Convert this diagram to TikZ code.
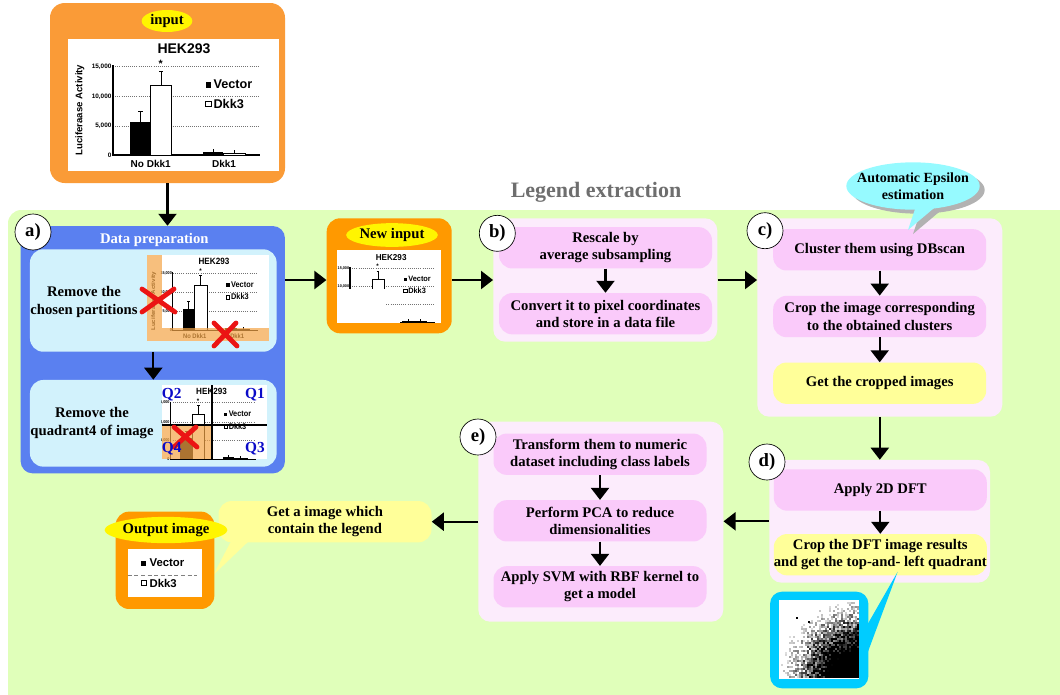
\documentclass[tikz,border=0pt]{standalone}
\usepackage{fontspec}
\setmainfont{Liberation Serif}
\newfontfamily\arial{Liberation Sans}
\usetikzlibrary{arrows.meta,calc,shapes.geometric}

\definecolor{bggreen}{RGB}{224,255,186}
\definecolor{inorange}{RGB}{250,155,55}
\definecolor{boxorange}{RGB}{255,153,0}
\definecolor{tagyellow}{RGB}{255,245,0}
\definecolor{prepblue}{RGB}{90,128,240}
\definecolor{prepinner}{RGB}{210,242,252}
\definecolor{stagepink}{RGB}{252,236,252}
\definecolor{steppink}{RGB}{250,202,250}
\definecolor{stepyellow}{RGB}{255,255,153}
\definecolor{bubblecyan}{RGB}{150,250,255}
\definecolor{framecyan}{RGB}{0,204,255}
\definecolor{titlegray}{RGB}{110,110,110}
\definecolor{crossred}{RGB}{235,20,20}
\definecolor{qblue}{RGB}{10,10,200}
\definecolor{tintorange}{RGB}{245,165,70}

\newcommand\steptext{\bfseries\fontsize{11}{13}\selectfont}

% bar chart "HEK293", local pixel coordinates (211 x 132)
\newcommand\hekchart{%
  \node[font=\arial\bfseries\fontsize{10.5}{12}\selectfont] (chtitle) at (116,10) {HEK293};
  \foreach \yy/\lab in {27.7/{15,000},57.7/{10,000},87/{5,000}}{
    \draw[black!55, densely dotted, line width=0.6pt] (45,\yy) -- (192,\yy);
    \node[font=\arial\bfseries\fontsize{4.8}{5}\selectfont, anchor=east, inner sep=1pt] (chtick) at (45,\yy) {\lab};
  }
  \node[font=\arial\bfseries\fontsize{4.8}{5}\selectfont, anchor=east, inner sep=1pt] (chzero) at (45,116) {0};
  \draw[line width=0.9pt] (45,26) -- (45,116) -- (192,116);
  \fill (62,83) rectangle (82.7,116);
  \draw[fill=white, line width=0.5pt] (82.7,46) rectangle (103.7,116);
  \draw[line width=0.6pt] (72.3,83) -- (72.3,72) (70,72) -- (74.6,72);
  \draw[line width=0.6pt] (93.2,46) -- (93.2,32) (91,32) -- (95.4,32);
  \node[font=\arial\bfseries\fontsize{8}{8}\selectfont] (chstar) at (92.7,25) {*};
  \fill (135,113) rectangle (155,116);
  \draw[fill=white, line width=0.5pt] (155,114) rectangle (177,116);
  \draw[line width=0.5pt] (145,113) -- (145,110) (166,114) -- (166,111);
  \node[font=\arial\bfseries\fontsize{7.5}{8}\selectfont] (chxa) at (82.7,125) {No Dkk1};
  \node[font=\arial\bfseries\fontsize{7.5}{8}\selectfont] (chxb) at (156,125) {Dkk1};
  \node[font=\arial\bfseries\fontsize{7.2}{8}\selectfont, rotate=90] (chylab) at (12,71) {Luciferaase Activity};
  \fill (137.5,43) rectangle ++(5.5,5.5);
  \node[font=\arial\bfseries\fontsize{9.5}{10}\selectfont, anchor=west, inner sep=1pt] (chvec) at (144,45.5) {Vector};
  \draw[fill=white, line width=0.5pt] (137.5,62) rectangle ++(5.5,5.5);
  \node[font=\arial\bfseries\fontsize{9.5}{10}\selectfont, anchor=west, inner sep=1pt] (chdkk) at (144,64.5) {Dkk3};
}

\begin{document}
\begin{tikzpicture}[x=0.75pt,y=-0.75pt,
  stage/.style={fill=stagepink, rounded corners=9pt, inner sep=0pt},
  stepbox/.style={fill=steppink, rounded corners=10pt, minimum width=159.75pt,
    minimum height=31pt, align=center, font=\steptext, inner sep=0pt},
  notebox/.style={stepbox, fill=stepyellow},
  tag/.style={circle, draw, line width=0.5pt, fill=white, minimum size=27pt,
    inner sep=0pt, font=\bfseries\fontsize{14}{14}\selectfont},
  tagell/.style={ellipse, fill=tagyellow, inner sep=0pt,
    font=\bfseries\fontsize{11}{12}\selectfont},
  orangebox/.style={fill=boxorange, rounded corners=10pt, inner sep=0pt},
  arr/.style={line width=1.6pt, -{Triangle[width=13.5pt,length=9pt]}},
  redx/.style={crossred, line width=3.6pt, line cap=round},
  qlab/.style={text=qblue, font=\bfseries\fontsize{11.5}{12}\selectfont, inner sep=0pt}]

\useasboundingbox (0,0) rectangle (1060,694);

% green working area
\fill[bggreen, rounded corners=10pt] (8,210) rectangle (1100,730);
\node[font=\bfseries\fontsize{16.5}{18}\selectfont, text=titlegray] (legendtitle) at (596,192) {Legend extraction};

% ---------- input ----------
\node[fill=inorange, rounded corners=11pt, minimum width=176.25pt, minimum height=135pt] (input) at (167.5,93) {};
\fill[white] (68,39) rectangle (279,171);
\begin{scope}[shift={(68,39)}]
  \hekchart
\end{scope}
\node[tagell, minimum width=38pt, minimum height=16.5pt] (inputtag) at (167,21) {input};

% ---------- a) data preparation ----------
\node[fill=prepblue, rounded corners=9pt, minimum width=198.2pt, minimum height=185.5pt] (prep) at (152.8,349.7) {};
\node[font=\bfseries\fontsize{11}{12}\selectfont, text=white] (preptitle) at (154.3,239.5) {Data preparation};
\node[fill=prepinner, rounded corners=10pt, minimum width=185pt, minimum height=76.8pt] (prepA) at (153.3,300.5) {};
\node[fill=prepinner, rounded corners=10pt, minimum width=185pt, minimum height=65pt] (prepB) at (153.3,423.3) {};
\node[align=center, font=\steptext] (prepAtext) at (84,302) {Remove the\\chosen partitions};
\node[align=center, font=\steptext] (prepBtext) at (92,423) {Remove the\\quadrant4 of image};

% partitions removed
\fill[white] (146.7,255) rectangle (269,340.7);
\begin{scope}
  \clip (146.7,255) rectangle (269,340.7);
  \begin{scope}[shift={(146.7,255)}, xscale=0.58, yscale=0.65, transform shape]
    \hekchart
  \end{scope}
  \fill[tintorange, opacity=0.7] (146.7,255) rectangle (161.7,340.7);
  \fill[tintorange, opacity=0.7] (161.7,328) rectangle (269,340.7);
\end{scope}
\draw[redx] (142,289) -- (175,312) (142,312) -- (174,289);
\draw[redx] (214,323) -- (237,346) (214,346) -- (236,323);

% quadrants
\fill[white] (161.7,385) rectangle (267,459);
\begin{scope}
  \clip (161.7,385) rectangle (267,459);
  \begin{scope}[shift={(144.3,385)}, xscale=0.58, yscale=0.64, transform shape]
    \hekchart
  \end{scope}
  \fill[tintorange, opacity=0.7] (161.7,425) rectangle (211.7,459);
\end{scope}
\draw[line width=1.2pt] (211.7,385) -- (211.7,459);
\draw[line width=1.2pt] (161.7,425) -- (267,425);
\draw[redx] (174,427) -- (197,447) (174,447) -- (196,427);
\node[qlab] (q2) at (171.7,395) {Q2};
\node[qlab] (q1) at (255,395) {Q1};
\node[qlab] (q4) at (171.7,449) {Q4};
\node[qlab] (q3) at (255,449) {Q3};

\draw[arr] (prepA.south) -- (prepB.north);
\node[tag] (taga) at (33,232) {a)};

% ---------- new input ----------
\node[orangebox, minimum width=93.75pt, minimum height=86.25pt] (newinput) at (389.2,275.8) {};
\fill[white] (337,250) rectangle (440.7,323);
\begin{scope}
  \clip (337,250) rectangle (440.7,323);
  \begin{scope}[shift={(323.9,251.3)}, xscale=0.58, yscale=0.613, transform shape]
    \hekchart
  \end{scope}
  \fill[white] (337,288.5) rectangle (386,323);
  \fill[white] (386,306.5) rectangle (400,323);
\end{scope}
\node[tagell, minimum width=59pt, minimum height=17.8pt] (newtag) at (392,235) {New input};

% ---------- b) ----------
\node[stage, minimum width=168pt, minimum height=92.5pt] (stageb) at (605.3,280) {};
\node[stepbox] (b1) at (605.5,247.8) {Rescale by\\average subsampling};
\node[stepbox] (b2) at (605.5,313.7) {Convert it to pixel coordinates\\and store in a data file};
\draw[arr] (b1.south) -- (b2.north);
\node[tag] (tagb) at (497.3,233.3) {b)};

% ---------- c) ----------
\node[stage, minimum width=183.75pt, minimum height=148.8pt] (stagec) at (879.8,317.5) {};
\node[stepbox] (c1) at (879.7,249.8) {Cluster them using DBscan};
\node[stepbox] (c2) at (879.7,316.5) {Crop the image corresponding\\to the obtained clusters};
\node[notebox] (c3) at (879.7,383.2) {Get the cropped images};
\draw[arr] (c1.south) -- (c2.north);
\draw[arr] (c2.south) -- (c3.north);
\node[tag] (tagc) at (765,230.7) {c)};

% epsilon bubble with its shadow
\fill[black!30] (921.7,208) -- (913,234) -- (945,207) -- cycle;
\node[ellipse, fill=black!30, minimum width=100pt, minimum height=35.5pt, inner sep=0pt] (epsshadow) at (918,190) {};
\fill[bubblecyan] (916.7,204) -- (908,230) -- (940,203) -- cycle;
\node[ellipse, fill=bubblecyan, minimum width=100pt, minimum height=35.5pt, inner sep=0pt] (epsilon) at (913,186) {};
\node[align=center, font=\bfseries\fontsize{10.5}{13}\selectfont] (epstext) at (epsilon) {Automatic Epsilon\\estimation};

% ---------- d) ----------
\node[stage, minimum width=165.5pt, minimum height=92pt] (staged) at (879.7,521.3) {};
\node[stepbox] (d1) at (880.3,490) {Apply 2D DFT};
\node[notebox] (d2) at (880.3,554.7) {Crop the DFT image results\\and get the top-and- left quadrant};
\draw[arr] (d1.south) -- (d2.north);
\node[tag] (tagd) at (767,462) {d)};

% DFT quadrant picture
\fill[framecyan] (866,627) -- (897.7,571.7) -- (866,657) -- cycle;
\node[fill=framecyan, rounded corners=9pt, minimum width=73.7pt, minimum height=72.5pt, inner sep=0pt] (dftframe) at (819.2,640) {};
\fill[white] (779.3,600) rectangle (859.3,678.7);
\pgfmathsetseed{7}
\foreach \i in {0,...,39}{
  \foreach \j in {0,...,38}{
    \pgfmathsetmacro\dd{sqrt((40-\i)^2+(39-\j)^2)/40}
    \pgfmathsetmacro\vv{100*((0.9-\dd)/0.4+0.9*(rnd-0.5))}
    \pgfmathtruncatemacro\vt{min(100,max(0,\vv))}
    \ifnum\vt>12 \fill[black!\vt] (779.3+2*\i,600+2*\j) rectangle ++(2.05,2.05);\fi
  }
}
\fill (796,617) rectangle ++(1.6,1.6);
\fill (808,621) rectangle ++(1.6,1.6);

% ---------- e) ----------
\node[stage, minimum width=183.75pt, minimum height=150pt] (stagee) at (600.8,521.7) {};
\node[stepbox] (e1) at (600,454.2) {Transform them to numeric\\dataset including class labels};
\node[stepbox] (e2) at (600,520.8) {Perform PCA to reduce\\dimensionalities};
\node[stepbox] (e3) at (600,586.8) {Apply SVM with RBF kernel to\\get a model};
\draw[arr] (e1.south) -- (e2.north);
\draw[arr] (e2.south) -- (e3.north);
\node[tag] (tage) at (478,437) {e)};

% ---------- output ----------
\fill[stepyellow] (238,528) -- (213.3,575) -- (252,538) -- cycle;
\node[notebox] (getlegend) at (325,521.7) {Get a image which\\contain the legend};
\node[orangebox, minimum width=74pt, minimum height=73pt] (output) at (165,560.3) {};
\node[tagell, minimum width=66.75pt, minimum height=19.7pt] (outtag) at (166,530) {Output image};
\fill[white] (127.7,549) rectangle (201.7,597.3);
\fill (141,560.5) rectangle ++(5,5);
\node[font=\arial\bfseries\fontsize{8.5}{9}\selectfont, anchor=west, inner sep=1pt] (outvec) at (148,563) {Vector};
\draw[black!50, densely dashed, line width=0.5pt] (127.7,575) -- (197,575);
\draw[fill=white, line width=0.4pt] (141,580.5) rectangle ++(5,5);
\node[font=\arial\bfseries\fontsize{8.5}{9}\selectfont, anchor=west, inner sep=1pt] (outdkk) at (148,583) {Dkk3};

% ---------- connectors ----------
\draw[arr] (input.south) -- (input.south |- prep.north);
\draw[arr] (prep.east |- stageb.west) -- (newinput.west |- stageb.west);
\draw[arr] (newinput.east |- stageb.west) -- (stageb.west);
\draw[arr] (stageb.east) -- (stagec.west |- stageb.east);
\draw[arr] (stagec.south) -- (stagec.south |- staged.north);
\draw[arr] (staged.west) -- (stagee.east |- staged.west);
\draw[arr] (stagee.west) -- (getlegend.east |- stagee.west);

\end{tikzpicture}
\end{document}
